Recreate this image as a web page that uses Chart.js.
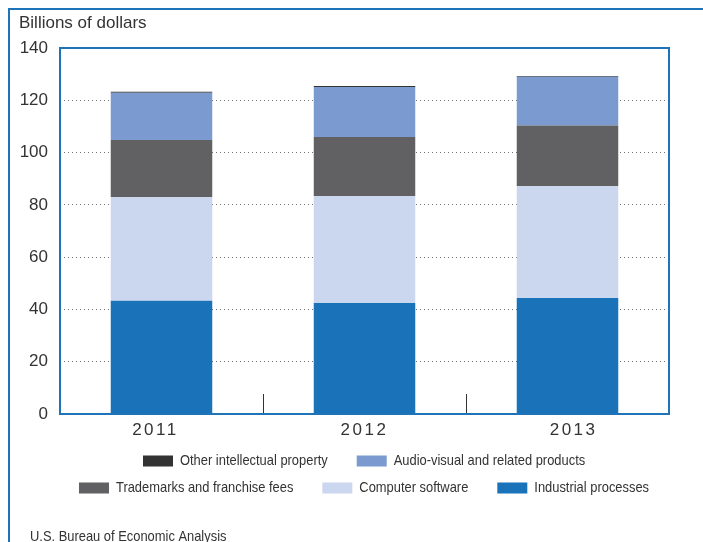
<!DOCTYPE html>
<html>
<head>
<meta charset="utf-8">
<script src="https://cdn.jsdelivr.net/npm/chart.js@4/dist/chart.umd.min.js"></script>
<style>
  html, body { margin: 0; padding: 0; background: #ffffff; }
  #wrap { position: relative; width: 703px; height: 542px; overflow: hidden; }
  canvas { display: block; }
</style>
</head>
<body>
<div id="wrap"><canvas id="c" width="703" height="542"></canvas></div>
<script>
// Charges for the use of intellectual property, billions of dollars
const years = ['2011', '2012', '2013'];
const industrialProcesses = [43.3, 42.5, 44.4];
const computerSoftware = [39.7, 40.9, 42.8];
const trademarksFranchise = [21.8, 22.6, 23.2];
const audioVisual = [18.1, 19.1, 18.6];
const otherIP = [0.4, 0.4, 0.3];
const yTicks = [0, 20, 40, 60, 80, 100, 120, 140];

const unitLabel = 'Billions of dollars';
const sourceLabel = 'U.S. Bureau of Economic Analysis';

const BLUE = '#1f73b8';
const TEXT = '#333333';
const FONT = '"Liberation Sans", Arial, Helvetica, sans-serif';

const series = [
  { label: 'Industrial processes', data: industrialProcesses, color: '#1a72b8' },
  { label: 'Computer software', data: computerSoftware, color: '#cbd7ee' },
  { label: 'Trademarks and franchise fees', data: trademarksFranchise, color: '#616163' },
  { label: 'Audio-visual and related products', data: audioVisual, color: '#7b9bd0' },
  { label: 'Other intellectual property', data: otherIP, color: '#333333' }
];

// legend rows, listed top of stack first
const legendRows = [
  ['Other intellectual property', 'Audio-visual and related products'],
  ['Trademarks and franchise fees', 'Computer software', 'Industrial processes']
];

const decorations = {
  id: 'decorations',
  beforeDraw(chart) {
    const ctx = chart.ctx;
    ctx.save();
    // outer panel edge
    ctx.strokeStyle = BLUE;
    ctx.lineWidth = 2;
    ctx.beginPath();
    ctx.moveTo(9, chart.height);
    ctx.lineTo(9, 9);
    ctx.lineTo(chart.width, 9);
    ctx.stroke();
    // unit label
    ctx.fillStyle = TEXT;
    ctx.font = '17px ' + FONT;
    ctx.textAlign = 'left';
    ctx.textBaseline = 'middle';
    ctx.fillText(unitLabel, 19, 23);
    ctx.restore();
  },
  afterDraw(chart) {
    const ctx = chart.ctx;
    const area = chart.chartArea;
    const x = chart.scales.x;
    const mid = (area.left + area.right) / 2;
    ctx.save();

    // separators between categories
    ctx.strokeStyle = '#333333';
    ctx.lineWidth = 1;
    for (let i = 1; i < years.length; i++) {
      const px = Math.round((x.getPixelForValue(i - 1) + x.getPixelForValue(i)) / 2) + 0.5;
      ctx.beginPath();
      ctx.moveTo(px, area.bottom);
      ctx.lineTo(px, area.bottom - 20);
      ctx.stroke();
    }

    // plot frame
    ctx.strokeStyle = BLUE;
    ctx.lineWidth = 2;
    ctx.strokeRect(area.left, area.top, area.right - area.left, area.bottom - area.top);

    // category labels, spaced out and spread slightly wider than the bars
    ctx.fillStyle = TEXT;
    ctx.font = '17px ' + FONT;
    ctx.textAlign = 'center';
    ctx.textBaseline = 'middle';
    ctx.letterSpacing = '2.5px';
    years.forEach((lab, i) => {
      const bx = x.getPixelForValue(i);
      ctx.fillText(lab, mid + (bx - mid) * 1.03, area.bottom + 16);
    });
    ctx.letterSpacing = '0px';

    // legend
    const squeeze = 0.86;
    const boxW = 30, boxH = 11, boxGap = 7, itemGap = 29;
    const centerX = mid;
    ctx.font = '15px ' + FONT;
    ctx.textAlign = 'left';
    const rowY = [area.bottom + 47, area.bottom + 74];
    legendRows.forEach((row, r) => {
      const items = row.map(name => {
        const s = series.find(d => d.label === name);
        return { name, color: s.color, w: ctx.measureText(name).width * squeeze };
      });
      const total = items.reduce((a, it) => a + boxW + boxGap + it.w, 0) + itemGap * (items.length - 1);
      let cx = Math.round(centerX - total / 2);
      const cy = rowY[r];
      items.forEach(it => {
        ctx.fillStyle = it.color;
        ctx.fillRect(cx, cy - boxH / 2, boxW, boxH);
        cx += boxW + boxGap;
        ctx.save();
        ctx.translate(cx, cy);
        ctx.scale(squeeze, 1);
        ctx.fillStyle = TEXT;
        ctx.fillText(it.name, 0, 0);
        ctx.restore();
        cx += it.w + itemGap;
      });
    });

    // source line
    ctx.save();
    ctx.translate(30, 537);
    ctx.scale(squeeze, 1);
    ctx.fillStyle = TEXT;
    ctx.font = '15px ' + FONT;
    ctx.fillText(sourceLabel, 0, 0);
    ctx.restore();

    ctx.restore();
  }
};

new Chart(document.getElementById('c'), {
  type: 'bar',
  data: {
    labels: years,
    datasets: series.map(s => ({
      label: s.label,
      data: s.data,
      backgroundColor: s.color,
      borderWidth: 0,
      barPercentage: 0.5,
      categoryPercentage: 1.0
    }))
  },
  options: {
    responsive: false,
    devicePixelRatio: 1,
    animation: false,
    layout: { padding: { left: 0, top: 48, right: 34, bottom: 0 } },
    plugins: {
      legend: { display: false },
      tooltip: { enabled: false }
    },
    scales: {
      x: {
        stacked: true,
        grid: { display: false },
        border: { display: false },
        ticks: { display: false },
        afterFit(scale) { scale.height = 128; }
      },
      y: {
        stacked: true,
        min: 0,
        max: 140,
        afterBuildTicks(scale) { scale.ticks = yTicks.map(v => ({ value: v })); },
        grid: { color: '#707070', lineWidth: 1, drawTicks: false },
        border: { display: false, dash: [1, 3] },
        ticks: {
          color: TEXT,
          padding: 12,
          font: { size: 17, family: FONT }
        },
        afterFit(scale) { scale.width = 60; }
      }
    }
  },
  plugins: [decorations]
});
</script>
</body>
</html>
